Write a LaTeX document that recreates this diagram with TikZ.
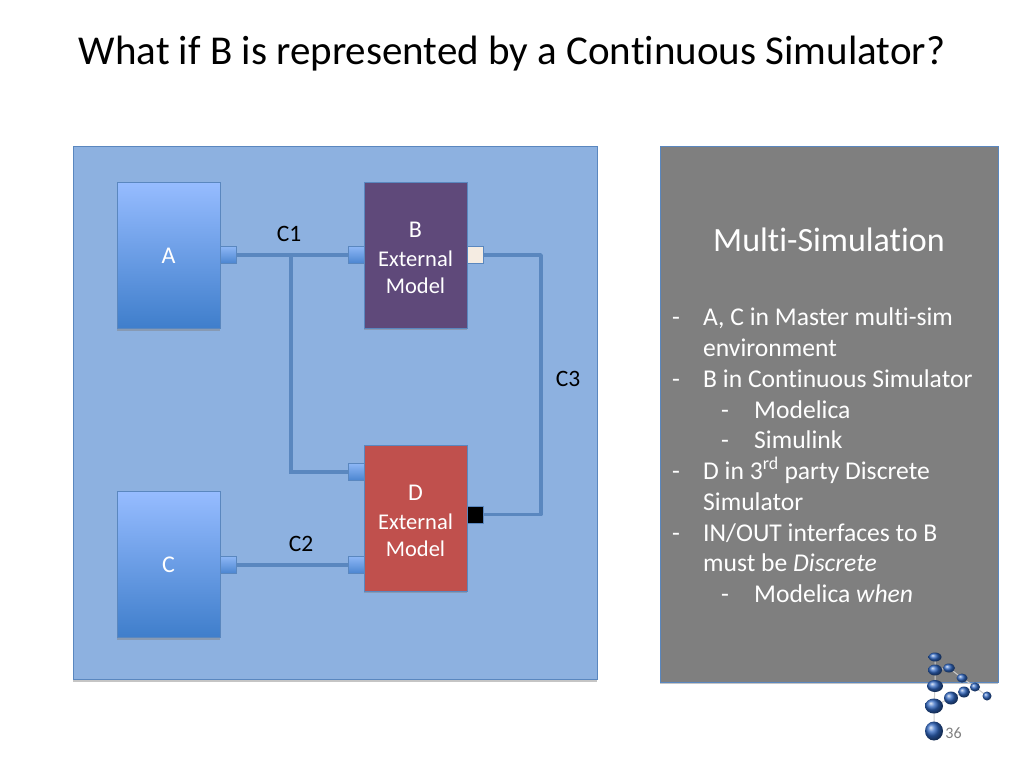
\documentclass[tikz,border=0pt]{standalone}
\usepackage{fontspec}
\setmainfont{Carlito}[Ligatures=NoCommon]
\usetikzlibrary{shadows}
\definecolor{panelblue}{HTML}{8DB1E0}
\definecolor{panelgray}{HTML}{7F7F7F}
\definecolor{edgeblue}{HTML}{5A87BF}
\definecolor{modelpurple}{HTML}{5F497A}
\definecolor{modelred}{HTML}{C0504D}
\definecolor{simtop}{HTML}{96BCFF}
\definecolor{simbot}{HTML}{3F7ECB}
\definecolor{porttop}{HTML}{8DB6F5}
\definecolor{portbot}{HTML}{4A85D0}
\definecolor{logoblue}{HTML}{2F66C0}
\tikzset{
    panel/.style={draw=edgeblue, line width=0.8pt, inner sep=0pt, outer sep=0pt, drop shadow={shadow xshift=0pt, shadow yshift=-2pt, opacity=0.45}},
    simbox/.style={panel, minimum width=103, minimum height=146, top color=simtop, bottom color=simbot, text=white, font=\fontsize{24}{28}\selectfont},
    modelbox/.style={panel, minimum width=103, minimum height=146, text=white, align=center, font=\fontsize{22.5}{27}\selectfont},
    port/.style={draw=edgeblue, line width=0.6pt, inner sep=0pt, outer sep=0pt, minimum width=16, minimum height=17, top color=porttop, bottom color=portbot},
    outport/.style={port, top color=#1, bottom color=#1},
    wire/.style={edgeblue, line width=3.5pt},
    clabel/.style={font=\fontsize{23.5}{27}\selectfont, text=black},
    listline/.style={anchor=base west, inner sep=0pt, text=white, font=\fontsize{25.6}{30}\selectfont}
}
\begin{document}
\begin{tikzpicture}[x=1pt, y=-1pt]
                \useasboundingbox (0, 0) rectangle (1024, 768);
                \fill [white] (0, 0) rectangle (1024, 768);
                % Title
                \node [anchor=base, inner sep=0pt, font=\fontsize{41}{46}\selectfont] (title) at (512, 64) {What if B is represented by a Continuous Simulator?};
                % Panels
                \node [panel, fill=panelblue, minimum width=524, minimum height=533] (left) at (335, 413) {};
                \node [panel, fill=panelgray, minimum width=338, minimum height=536] (right) at (829, 414) {};
                % Models
                \node [simbox] (a) at (168.5, 255.5) {A};
                \node [simbox] (c) at (168.5, 564.5) {C};
                \node [modelbox, fill=modelpurple] (b) at (415.5, 255) {\rule{0pt}{21pt}{\fontsize{24}{27}\selectfont B}\\[2pt]External\\Model};
                \node [modelbox, fill=modelred] (d) at (415.5, 518) {\rule{0pt}{21pt}{\fontsize{24}{27}\selectfont D}\\[2pt]External\\Model};
                % Wires first, ports on top
                \coordinate (aout) at (228, 255);
                \coordinate (cout) at (228, 565);
                \coordinate (bin) at (356, 255);
                \coordinate (bout) at (475, 255);
                \coordinate (dinup) at (356, 472);
                \coordinate (dinlow) at (356, 565);
                \coordinate (dout) at (475, 514.5);
                \coordinate (tap) at (291, 255);
                \coordinate (bend) at (541, 255);
                \coordinate (bendlow) at (541, 514.5);
                \draw [wire] (aout) -- (bin);
                \draw [wire] (tap) |- (dinup);
                \draw [wire] (cout) -- (dinlow);
                \draw [wire, line join=round] (bout) -- (bend) -- (bendlow) -- (dout);
                % Ports
                \node [port] (pa) at (aout) {};
                \node [port] (pc) at (cout) {};
                \node [port] (pb) at (bin) {};
                \node [port] (pdup) at (dinup) {};
                \node [port] (pdlow) at (dinlow) {};
                \node [outport={white!85!brown}] (pbout) at (bout) {};
                \node [outport=black] (pdout) at (dout) {};
                % Connection names
                \node [clabel] (c1) at (289, 234) {C1};
                \node [clabel] (c2) at (301, 544) {C2};
                \node [clabel] (c3) at (568, 379) {C3};
                % Text on the gray panel
                \node [text=white, inner sep=0pt, font=\fontsize{34}{40}\selectfont] (heading) at (829, 240) {Multi-Simulation};
                \foreach \i/\dx/\tx/\ty/\line in {
                    1/672/703/325/{A, C in Master multi-sim},
                    3/672/703/387/{B in Continuous Simulator},
                    4/721/754/418/Modelica,
                    5/721/754/448/Simulink,
                    6/672/703/479/{D in 3\textsuperscript{rd} party Discrete},
                    8/672/703/541/{IN/OUT interfaces to B},
                    10/721/754/602/{Modelica \textit{when}}} {
                    \node [listline] (dash\i) at (\dx, \ty) {-};
                    \node [listline] (line\i) at (\tx, \ty) {\line};
                }
                \node [listline] (line2) at (703, 356) {environment};
                \node [listline] (line7) at (703, 510) {Simulator};
                \node [listline] (line9) at (703, 571) {must be \textit{Discrete}};
                % Logo
                \draw [gray!40, line width=1pt] (934, 731) -- (934, 706) -- (935, 686) -- (935, 670) -- (935, 657);
                \draw [gray!40, line width=1pt] (934, 706) -- (951, 698) -- (964, 692) -- (975, 687) -- (987, 696);
                \draw [gray!40, line width=1pt] (935, 670) -- (949, 668) -- (962, 678) -- (975, 687);
                \foreach \bx/\by/\rx/\ry in {935/657/6.5/4.5, 935/670/7/5.5, 949/668/6/4.5, 962/678/5.5/4.5, 935/686/8/6, 975/687/5/4.5, 987/696/4.5/4.5, 964/692/6/5.5, 951/698/7/6.5, 934/706/9/7.5, 934/731/9/9.5} {
                    \shade [ball color=logoblue] (\bx, \by) ellipse [x radius=\rx, y radius=\ry];
                }
                \node [text=gray, inner sep=0pt, font=\fontsize{16}{19}\selectfont] (page) at (953.5, 733) {36};
            \end{tikzpicture}
\end{document}
